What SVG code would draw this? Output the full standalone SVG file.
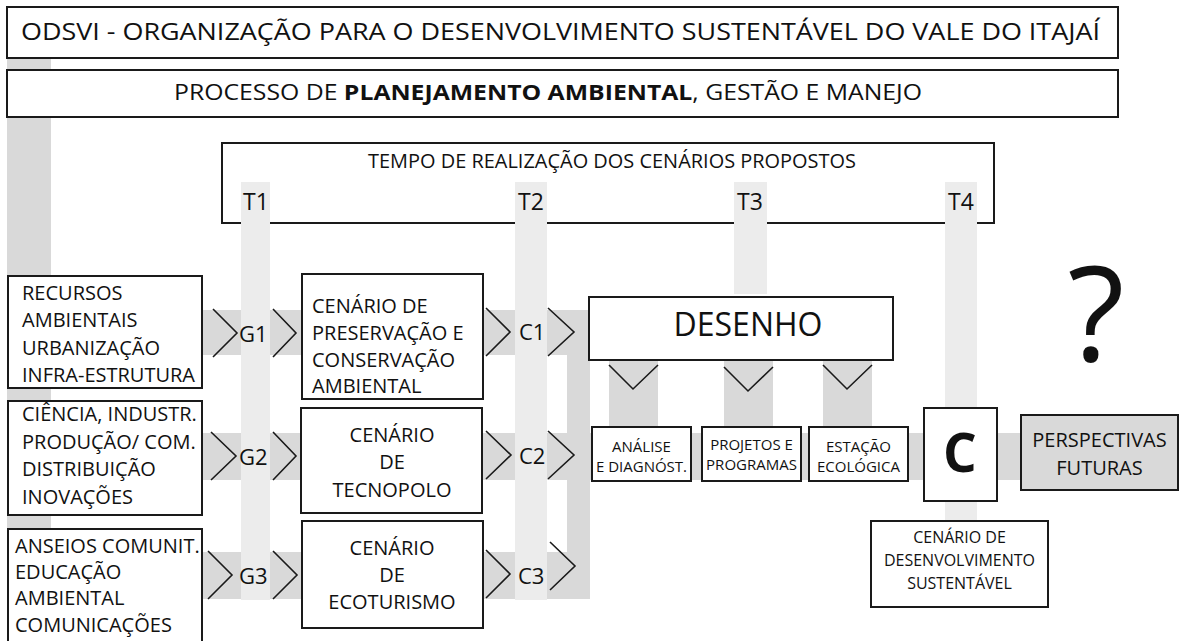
<svg xmlns="http://www.w3.org/2000/svg" width="1184" height="641" viewBox="0 0 1184 641">
<style>
.bx{fill:#fff;stroke:#1a1a1a;stroke-width:2}
.dk{fill:#d9d9d9}
.lt{fill:#ececec}
.ch{fill:none;stroke:#1a1a1a;stroke-width:1.6}
text{font-family:"Open Sans","Liberation Sans",sans-serif;fill:#111}
.c{text-anchor:middle}
.lb{font-size:20px}
.sm{font-size:15px}
</style>
<rect width="1184" height="641" fill="#fff"/>
<g id="connectors">
  <rect class="dk" x="7" y="58" width="44" height="590"/>
  <rect class="dk" x="202" y="310" width="387" height="45"/>
  <rect class="dk" x="202" y="433" width="819" height="47"/>
  <rect class="dk" x="202" y="552" width="388" height="47"/>
  <rect class="dk" x="567" y="310" width="23" height="289"/>
  <rect class="dk" x="609" y="360" width="49" height="67"/>
  <rect class="dk" x="724" y="360" width="49" height="67"/>
  <rect class="dk" x="823" y="360" width="49" height="67"/>
</g>
<g id="tempo">
  <rect class="bx" x="222" y="143" width="772" height="80"/>
</g>
<g id="timebands">
  <rect class="lt" x="241" y="182" width="29" height="418"/>
  <rect class="lt" x="515" y="182" width="32" height="418"/>
  <rect class="lt" x="734" y="182" width="33" height="112"/>
  <rect class="lt" x="945" y="182" width="32" height="339"/>
</g>
<g id="tempo-text">
  <text x="368" y="168" font-size="20" textLength="488" lengthAdjust="spacingAndGlyphs">TEMPO DE REALIZAÇÃO DOS CENÁRIOS PROPOSTOS</text>
  <text class="c" x="256" y="210" font-size="23">T1</text>
  <text class="c" x="531" y="210" font-size="23">T2</text>
  <text class="c" x="750" y="210" font-size="23">T3</text>
  <text class="c" x="961" y="210" font-size="23">T4</text>
</g>
<g id="odsvi">
  <rect class="bx" x="7" y="7" width="1111" height="51"/>
  <text x="21" y="40" font-size="24" textLength="1079" lengthAdjust="spacingAndGlyphs">ODSVI - ORGANIZAÇÃO PARA O DESENVOLVIMENTO SUSTENTÁVEL DO VALE DO ITAJAÍ</text>
</g>
<g id="processo">
  <rect class="bx" x="7" y="70" width="1111" height="47"/>
  <text x="174" y="100" font-size="21" textLength="748" lengthAdjust="spacingAndGlyphs">PROCESSO DE <tspan font-weight="bold">PLANEJAMENTO AMBIENTAL</tspan>, GESTÃO E MANEJO</text>
</g>
<g id="recursos">
  <rect class="bx" x="8" y="276" width="194" height="112"/>
  <text class="lb" x="22" y="300">RECURSOS</text>
  <text class="lb" x="22" y="327">AMBIENTAIS</text>
  <text class="lb" x="22" y="355">URBANIZAÇÃO</text>
  <text class="lb" x="22" y="382">INFRA-ESTRUTURA</text>
</g>
<g id="ciencia">
  <rect class="bx" x="8" y="401" width="194" height="114"/>
  <text class="lb" x="22" y="421">CIÊNCIA, INDUSTR.</text>
  <text class="lb" x="22" y="448.5">PRODUÇÃO/ COM.</text>
  <text class="lb" x="22" y="476">DISTRIBUIÇÃO</text>
  <text class="lb" x="22" y="504">INOVAÇÕES</text>
</g>
<g id="anseios">
  <rect class="bx" x="8" y="529" width="194" height="120"/>
  <text class="lb" x="15" y="553">ANSEIOS COMUNIT.</text>
  <text class="lb" x="15" y="579">EDUCAÇÃO</text>
  <text class="lb" x="15" y="605">AMBIENTAL</text>
  <text class="lb" x="15" y="632">COMUNICAÇÕES</text>
</g>
<g id="cenario-preservacao">
  <rect class="bx" x="302" y="274" width="181" height="125"/>
  <text x="312" y="313" font-size="20">CENÁRIO DE</text>
  <text x="312" y="340" font-size="20">PRESERVAÇÃO E</text>
  <text x="312" y="367" font-size="20">CONSERVAÇÃO</text>
  <text x="312" y="393" font-size="20">AMBIENTAL</text>
</g>
<g id="cenario-tecnopolo">
  <rect class="bx" x="301" y="408" width="181" height="105"/>
  <text class="c" x="392" y="442" font-size="20">CENÁRIO</text>
  <text class="c" x="392" y="469" font-size="20">DE</text>
  <text class="c" x="392" y="497" font-size="20">TECNOPOLO</text>
</g>
<g id="cenario-ecoturismo">
  <rect class="bx" x="302" y="521" width="181" height="107"/>
  <text class="c" x="392" y="555" font-size="20">CENÁRIO</text>
  <text class="c" x="392" y="582" font-size="20">DE</text>
  <text class="c" x="392" y="609" font-size="20">ECOTURISMO</text>
</g>
<g id="desenho">
  <rect class="bx" x="589" y="297" width="304" height="63"/>
  <text class="c" x="748" y="336" font-size="32">DESENHO</text>
</g>
<g id="analise">
  <rect class="bx" x="592" y="427" width="99" height="54"/>
  <text class="c sm" x="641.5" y="452">ANÁLISE</text>
  <text class="c sm" x="641.5" y="472">E DIAGNÓST.</text>
</g>
<g id="projetos">
  <rect class="bx" x="702" y="427" width="99" height="54"/>
  <text class="c sm" x="751.5" y="450">PROJETOS E</text>
  <text class="c sm" x="751.5" y="470">PROGRAMAS</text>
</g>
<g id="estacao">
  <rect class="bx" x="809" y="427" width="99" height="54"/>
  <text class="c sm" x="858.5" y="452">ESTAÇÃO</text>
  <text class="c sm" x="858.5" y="472">ECOLÓGICA</text>
</g>
<g id="c-node">
  <rect class="bx" x="924" y="408" width="73" height="93"/>
  <text class="c" x="960" y="472" font-size="53" font-weight="bold">C</text>
</g>
<g id="perspectivas">
  <rect x="1021" y="415" width="157" height="75" fill="#d9d9d9" stroke="#1a1a1a" stroke-width="2"/>
  <text class="c" x="1099.5" y="447" font-size="20">PERSPECTIVAS</text>
  <text class="c" x="1099.5" y="475" font-size="20">FUTURAS</text>
</g>
<g id="cenario-desenvolvimento">
  <rect class="bx" x="871" y="521" width="177" height="86"/>
  <text class="c" x="959.5" y="543" font-size="16">CENÁRIO DE</text>
  <text class="c" x="959.5" y="566" font-size="16">DESENVOLVIMENTO</text>
  <text class="c" x="959.5" y="589" font-size="16">SUSTENTÁVEL</text>
</g>
<g id="interrogacao">
  <text class="c" x="1096" y="361" font-size="132">?</text>
</g>
<g id="chevrons">
  <polyline class="ch" points="213,309 237,333 213,357"/>
  <polyline class="ch" points="273,309 296,333 273,357"/>
  <polyline class="ch" points="486,308 510,332 486,356"/>
  <polyline class="ch" points="548,308 574,332 548,356"/>
  <polyline class="ch" points="211,432 236,456 211,480"/>
  <polyline class="ch" points="273,432 296,456 273,480"/>
  <polyline class="ch" points="486,431 511,455 486,479"/>
  <polyline class="ch" points="548,431 574,455 548,479"/>
  <polyline class="ch" points="208,551 232,575 208,599"/>
  <polyline class="ch" points="273,551 297,575 273,599"/>
  <polyline class="ch" points="486,550 510,574 486,598"/>
  <polyline class="ch" points="550,542 575,566 550,590"/>
  <polyline class="ch" points="609,365 633,389 658,365"/>
  <polyline class="ch" points="724,367 748,391 773,367"/>
  <polyline class="ch" points="823,365 847,389 872,365"/>
</g>
<g id="labels">
  <text x="239" y="342" font-size="22">G1</text>
  <text x="239" y="465" font-size="22">G2</text>
  <text x="239" y="584" font-size="22">G3</text>
  <text x="519" y="340" font-size="22">C1</text>
  <text x="519" y="464" font-size="22">C2</text>
  <text x="518" y="584" font-size="22">C3</text>
</g>
</svg>
